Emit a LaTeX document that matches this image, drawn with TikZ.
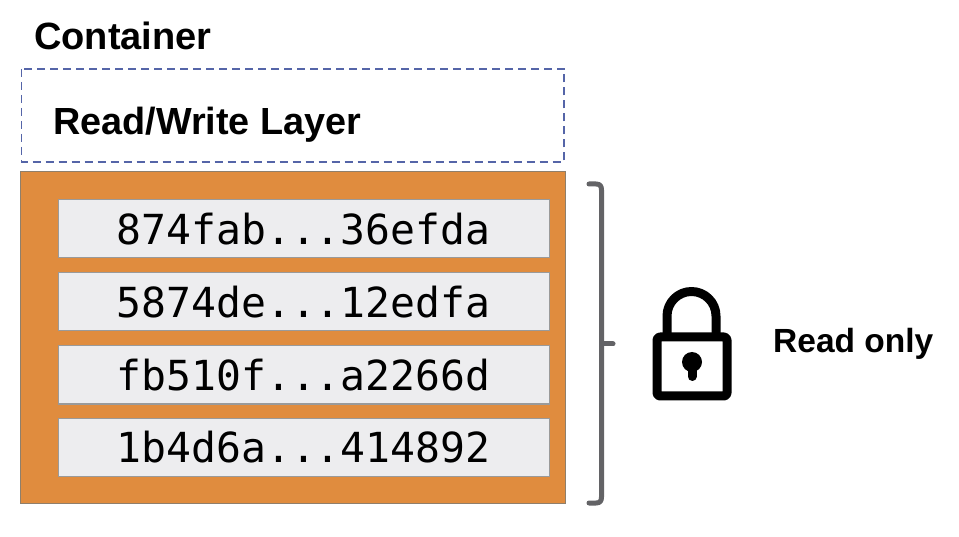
\documentclass[tikz,border=0pt]{standalone}
\usepackage{fontspec}
\setmainfont{Liberation Sans}
\newfontfamily\hashfont{DejaVu Sans Mono}
\definecolor{orangefill}{HTML}{E08C3E}
\definecolor{orangeedge}{HTML}{8F7F6B}
\definecolor{layerfill}{HTML}{EDEDEF}
\definecolor{layeredge}{HTML}{9A9A9A}
\definecolor{dashblue}{HTML}{5565A8}
\definecolor{bracegray}{HTML}{636366}
\tikzset{
  x=1pt,y=-1pt,
  title/.style={font=\fontsize{38}{40}\selectfont\bfseries,text=black,inner sep=0pt,anchor=base west},
  label/.style={font=\fontsize{37.8}{40}\selectfont\bfseries,text=black,inner sep=0pt,anchor=base west},
  hash/.style={draw=layeredge,line width=1pt,fill=layerfill,minimum width=491pt,minimum height=58pt,inner sep=0pt,
    font=\fontsize{41.4}{44}\selectfont\hashfont,text=black,text height=31pt,text depth=0pt},
  lockline/.style={draw=black,line width=9pt,line join=round},
}
\begin{document}
\begin{tikzpicture}
\useasboundingbox (0,0) rectangle (959,537);
\fill[white] (0,0) rectangle (959,537);
\node[title] (container) at (34,50) {Container};
\draw[dashblue,line width=1.8pt,dash pattern=on 8pt off 5pt] (21.5,69) rectangle (564,162);
\node[label] (rw) at (53,135) {Read/Write Layer};
\draw[orangeedge,line width=1pt,fill=orangefill] (20.5,171.5) rectangle (565.5,503.5);
\node[hash] (h1) at (303.5,229) {874fab...36efda};
\node[hash] (h2) at (303.5,302) {5874de...12edfa};
\node[hash] (h3) at (303.5,375) {fb510f...a2266d};
\node[hash] (h4) at (303.5,447) {1b4d6a...414892};
\draw[bracegray,line width=5pt,line cap=round,line join=round]
  (589,184) -- (596,184) .. controls (600,184) and (601.5,186) .. (601.5,190) -- (601.5,497) .. controls (601.5,501) and (600,503) .. (596,503) -- (589,503);
\draw[bracegray,line width=5pt,line cap=round] (601.5,344) -- (613,344);
% padlock
\draw[lockline] (667,337) -- (667,316) arc[start angle=180,end angle=360,radius=24.5] -- (716,337);
\draw[lockline,rounded corners=3pt] (657,337) rectangle (727,396);
\fill[black] (692,362) circle[radius=10];
\draw[black,line width=9pt,line cap=round] (692,364) -- (692,376.5);
\node[label,font=\fontsize{33.5}{40}\selectfont\bfseries] (ro) at (773,353) {Read only};
\end{tikzpicture}
\end{document}
